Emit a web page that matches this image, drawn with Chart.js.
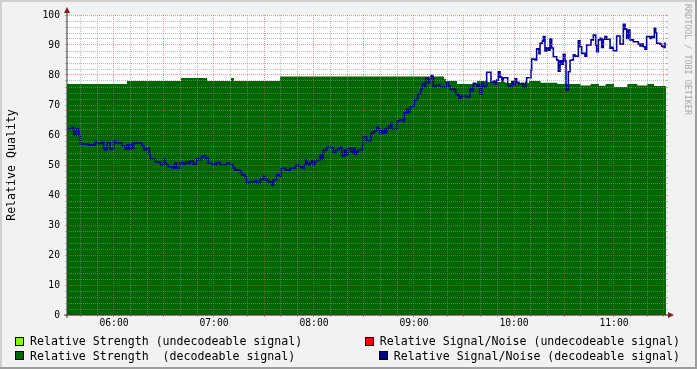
<!DOCTYPE html>
<html><head><meta charset="utf-8">
<script src="https://cdn.jsdelivr.net/npm/chart.js@4.4.1/dist/chart.umd.min.js"></script>
<style>
html,body{margin:0;padding:0;background:#f2f2f2;}
#wrap{position:relative;width:697px;height:369px;overflow:hidden;}
#c{position:absolute;left:0;top:0;}
.row{position:absolute;display:flex;align-items:center;font-family:"DejaVu Sans Mono",monospace;font-size:11.6px;line-height:14px;white-space:pre;color:#000;}
.sw{width:9px;height:9px;box-sizing:border-box;border:1px solid #000;margin-right:6px;}
#wm{position:absolute;left:683px;top:4px;font-family:"DejaVu Sans Mono",monospace;font-size:8.4px;color:#a8a8a8;writing-mode:vertical-rl;white-space:pre;line-height:10px;}
</style></head>
<body>
<div id="wrap">
<canvas id="c" width="697" height="369"></canvas>
<div id="wm">RRDTOOL / TOBI OETIKER</div>
<div id="legend"></div>
</div>
<script>
// ---- data (times in minutes since midnight) ----
const X_MIN = 331.8, X_MAX = 691.2;

const strengthTimes  = [331.8, 367.8, 400.2, 415.8, 430.2, 432, 459.6, 558, 559.2, 565.8, 577.8, 584, 595, 609, 616, 626, 640, 646, 651, 655, 660, 668, 674, 680, 684, 691.2];
const strengthValues = [77,    78,    79,    78,    79,    78,  79.5,  78.7, 78,   77,    78,    77.7, 77.3, 78, 77.4, 77, 76.5, 77, 76.4, 77, 76, 77, 76.5, 77, 76.3, 76];

const snTimes = [
 331.8,334.8,335.8,337.2,338.8,339.8,344.4,348.8,349.8,352.8,
 353.8,354.6,355.8,357.6,359.8,360.8,364.8,366.8,367.8,368.8,
 369.8,370.8,371.8,376.8,378,379.8,381.2,381.8,384.8,387.8,
 389.8,390.8,391.6,392.4,395.6,396.6,397.6,399.6,401.6,403,
 404.6,405.6,407.6,409.6,410.6,412.6,413.6,415,416.6,418.6,
 420.6,421.6,423.6,427.6,429.6,431.6,432.6,435.6,436.6,438.6,
 439.6,441.6,444.6,445.6,447.6,449.6,450.6,452.6,454.6,455.6,
 457.6,459.6,460.2,463,465.6,469,470.6,472.2,473,474.2,
 475,475.6,476.6,477.6,478.6,479.6,480.6,481.6,483.6,484.6,
 485.6,487.6,490.2,491.6,493,494.6,496.2,496.6,498.2,499.2,
 500.2,502.2,503,503.6,504.6,505.6,506.6,509,509.6,511.6,
 514.2,515.6,516.6,517.6,518.6,519.6,520.2,521,522.2,523,
 523.6,525,526.2,526.6,530,531.6,533.6,534.2,535.6,536.6,
 537.6,539.6,540.2,541.6,542.2,544.2,545,546.6,547,548.6,
 549.6,550.2,551.2,551.6,553.2,555.6,559.6,560.6,561.6,565,
 566.2,567,568.2,571.6,573.6,574.6,575.6,577,577.6,578.6,
 579.6,580.6,581.6,583.6,586.2,587.6,588.6,589.6,590.6,591.6,
 592.6,593.6,596.2,597.6,598.6,599.6,600.6,601.6,603,604.6,
 605.6,607,607.6,610.2,610.6,612.6,613.6,615,615.6,617,
 617.6,618.6,619.6,620.6,621.6,622.6,623.6,625.6,626.6,627.6,
 628.6,629.6,630.6,631.2,632.6,633.6,634.6,635.6,636.6,638.6,
 639.6,640.6,642.6,643.6,646.2,647.6,649,649.6,650.6,651.6,
 652.6,653.6,654.6,655.6,657.6,658.6,659.6,661.6,663.6,665.6,
 666.6,667.6,668.6,669.6,671.6,674.6,675.6,676.6,677.6,678.6,
 679.6,681.6,682.6,683.6,684.2,685,685.6,687.6,688.6,689.6,
 690.6,691.2
];
const snValues = [
 62,62.5,60,62,60,57,56.7,57.8,57.2,57.8,
 55.5,55,57.5,55.3,58,57.4,56.3,55.3,56.7,55.3,
 57,55.5,57.3,56.3,55,55.6,53.6,52,51,50,
 52,50.6,50,49.4,48.9,50.6,49,50.8,50.3,51,
 50.5,51.2,50.3,52.2,51.8,52.8,53,52.2,50.6,50.3,
 50,50.8,50,50.6,50,48.9,48.3,47.8,46.7,45.9,
 44.1,44.4,44.7,44.1,45.2,46.3,45,44.4,43.3,45,
 46.7,46.1,48.9,48.3,48.9,50,49.6,49.3,48.9,50,
 51.7,50.6,50,50.8,51.4,50,51.1,51.7,53.3,51.9,
 55,56.1,55.8,54.1,55,55.6,56.1,53,55,53.3,
 55.6,54.4,53.9,55.6,53.6,54.4,55,56.3,59.4,58,
 60.6,61.1,61.3,62.6,62,60.4,61.7,60.6,61.9,60.8,
 62.2,63,63.9,61.9,64.7,65,64.4,67.4,68.6,67.4,
 69.4,69.7,71.7,71.9,73.7,75.2,77,76,78.9,77.4,
 78.5,79.8,79.5,76.1,76.6,76.1,77.4,76.3,75.2,73.7,
 73.3,72.2,73,72.6,75.6,74.8,77.2,77,76.3,76.7,
 73.6,77.2,76.1,80.9,77.6,78,76.9,78.3,81.1,79.3,
 78,79.1,76.4,76.1,77.8,76.7,78.7,77.6,77,77.2,
 75.9,77.6,79.1,81.7,85.3,85,88.7,87.1,90.6,91.3,
 92.8,88,89.1,88.3,92,89,86.1,85,81.3,84.7,
 83.6,86.9,84.7,75,81.1,84.9,85,86.7,86.3,91.4,
 89.4,87.2,86.3,90,91.7,93.3,89.9,87.8,91.7,92.2,
 89.2,91.9,92.8,91.9,88.9,89.2,88.1,93,90.3,96.9,
 95.3,92.2,95,91.7,91.1,90.3,89.7,90.3,89.4,88.6,
 92.8,92.2,92.8,92.5,95.6,94,90.6,90.3,89.6,89.2,
 90.6,90.6
];

const legendLeft  = ['Relative Strength (undecodeable signal)', 'Relative Strength  (decodeable signal)'];
const legendRight = ['Relative Signal/Noise (undecodeable signal)', 'Relative Signal/Noise (decodeable signal)'];
const legendLeftColors  = ['#7fff00', '#006600'];
const legendRightColors = ['#ff0000', '#000090'];

// ---- legend (HTML text) ----
const lg = document.getElementById('legend');
const rowsY = [334, 348.5];
legendLeft.forEach((t, i) => {
  const d = document.createElement('div');
  d.className = 'row'; d.style.left = '15px'; d.style.top = rowsY[i] + 'px';
  d.innerHTML = '<span class="sw" style="background:' + legendLeftColors[i] + '"></span><span></span>';
  d.lastChild.textContent = t; lg.appendChild(d);
});
legendRight.forEach((t, i) => {
  const d = document.createElement('div');
  d.className = 'row'; d.style.right = '17px'; d.style.top = rowsY[i] + 'px';
  d.innerHTML = '<span class="sw" style="background:' + legendRightColors[i] + '"></span><span></span>';
  d.lastChild.textContent = t; lg.appendChild(d);
});

// ---- chart ----
const gridMinor = 'rgba(143,143,143,0.6)';
const gridMajor = 'rgba(222,79,79,0.6)';
const FONT = 'DejaVu Sans Mono';
const hhmm = m => String(Math.floor(m / 60)).padStart(2, '0') + ':' + String(m % 60).padStart(2, '0');

const deco = {
  id: 'deco',
  beforeDraw(chart) {
    const {ctx, chartArea: a, width, height} = chart;
    ctx.save();
    ctx.fillStyle = '#f2f2f2'; ctx.fillRect(0, 0, width, height);
    ctx.fillStyle = '#cfcfcf'; ctx.fillRect(0, 0, width, 2); ctx.fillRect(0, 0, 2, height);
    ctx.fillStyle = '#9e9e9e'; ctx.fillRect(0, height - 2, width, 2); ctx.fillRect(width - 2, 0, 2, height);
    ctx.fillStyle = '#ffffff'; ctx.fillRect(a.left, a.top, a.right - a.left, a.bottom - a.top);
    ctx.restore();
  },
  afterDraw(chart) {
    const {ctx, chartArea: a} = chart;
    ctx.save();
    ctx.strokeStyle = '#3a3a3a'; ctx.lineWidth = 1;
    ctx.beginPath();
    ctx.moveTo(a.left, a.bottom + 3); ctx.lineTo(a.left, a.top - 3);
    ctx.moveTo(a.left - 3, a.bottom); ctx.lineTo(a.right + 3, a.bottom);
    ctx.stroke();
    ctx.fillStyle = '#801f1f';
    ctx.beginPath();
    ctx.moveTo(a.left, a.top - 8); ctx.lineTo(a.left - 3, a.top - 2); ctx.lineTo(a.left + 3, a.top - 2); ctx.closePath(); ctx.fill();
    ctx.beginPath();
    ctx.moveTo(a.right + 8, a.bottom); ctx.lineTo(a.right + 2, a.bottom - 3); ctx.lineTo(a.right + 2, a.bottom + 3); ctx.closePath(); ctx.fill();
    ctx.restore();
  }
};

const yTicks = s => { const t = []; for (let v = 0; v <= 100; v += 2) t.push({value: v}); s.ticks = t; };

new Chart(document.getElementById('c'), {
  type: 'line',
  data: {
    datasets: [
      {
        label: 'Relative Signal/Noise (decodeable signal)',
        data: snTimes.map((t, i) => ({x: t, y: snValues[i]})),
        borderColor: '#00009a', borderWidth: 1.6, pointRadius: 0, stepped: true, fill: false, order: 0
      },
      {
        label: 'Relative Strength  (decodeable signal)',
        data: strengthTimes.map((t, i) => ({x: t, y: strengthValues[i]})),
        borderColor: '#006600', borderWidth: 0, backgroundColor: '#006600', pointRadius: 0, stepped: true, fill: 'origin', order: 1
      }
    ]
  },
  options: {
    responsive: false, animation: false, devicePixelRatio: 1,
    layout: {padding: {left: 0, top: 15, right: 28, bottom: 38}},
    plugins: {legend: {display: false}, tooltip: {enabled: false}},
    scales: {
      x: {
        type: 'linear', min: X_MIN, max: X_MAX,
        afterBuildTicks: s => { const t = []; for (let v = Math.ceil(X_MIN / 10) * 10; v <= X_MAX; v += 10) t.push({value: v}); s.ticks = t; },
        afterFit: s => { s.height = 16; },
        grid: {z: 1, color: c => (c.tick && c.tick.value % 30 === 0) ? gridMajor : gridMinor, tickLength: 2, lineWidth: 1},
        border: {display: false, dash: [1, 1]},
        ticks: {autoSkip: false, maxRotation: 0, minRotation: 0, padding: 1, color: '#000', font: {family: FONT, size: 9.7},
                callback: v => (v % 60 === 0) ? hhmm(v) : ''}
      },
      y: {
        type: 'linear', position: 'left', min: 0, max: 100,
        afterBuildTicks: yTicks,
        afterFit: s => { s.width = 67; },
        grid: {z: 1, color: c => (c.tick && c.tick.value % 10 === 0) ? gridMajor : gridMinor, tickLength: 2, lineWidth: 1},
        border: {display: false, dash: [1, 1]},
        ticks: {autoSkip: false, padding: 5, color: '#000', font: {family: FONT, size: 9.7},
                callback: v => (v % 10 === 0) ? String(v) : ''},
        title: {display: true, text: 'Relative Quality', color: '#000', font: {family: FONT, size: 11.6}, padding: {top: 5, bottom: 0}}
      },
      y2: {
        type: 'linear', position: 'right', min: 0, max: 100,
        afterBuildTicks: yTicks,
        afterFit: s => { s.width = 3; },
        grid: {drawOnChartArea: false, color: c => (c.tick && c.tick.value % 10 === 0) ? gridMajor : gridMinor, tickLength: 2},
        border: {display: false},
        ticks: {display: false}
      }
    }
  },
  plugins: [deco]
});
</script>
</body></html>
